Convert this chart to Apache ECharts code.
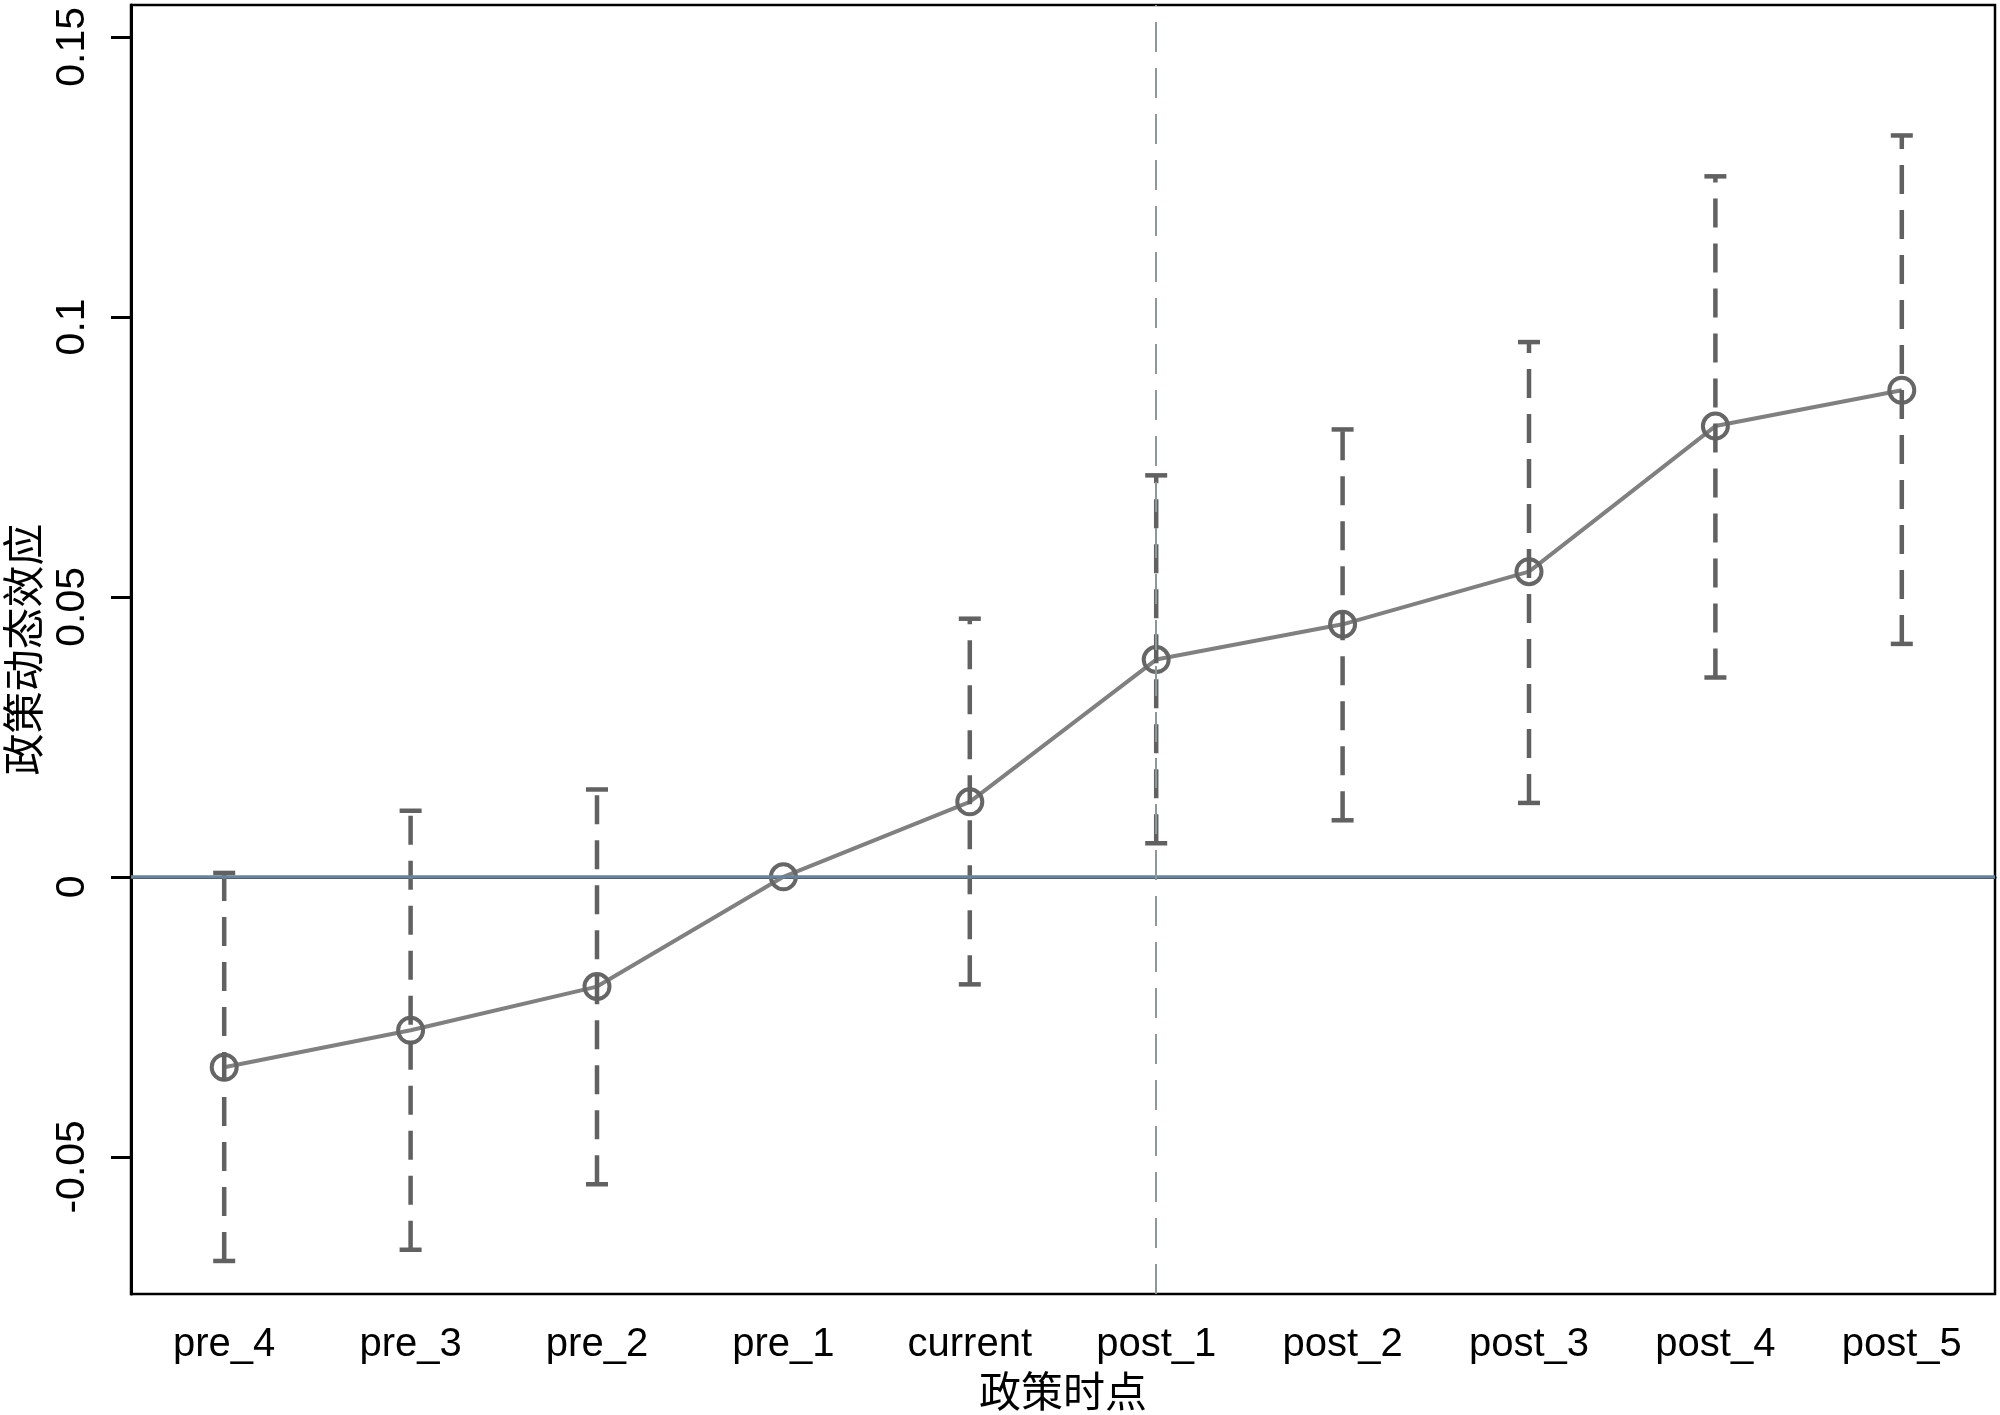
<!DOCTYPE html>
<html>
<head>
<meta charset="utf-8">
<script src="https://cdn.jsdelivr.net/npm/echarts@6/dist/echarts.min.js"></script>
<style>
  html, body { margin: 0; padding: 0; background: #fff; }
  #chart { width: 2000px; height: 1415px; }
</style>
</head>
<body>
<div id="chart"></div>
<script>
var categories = ['pre_4', 'pre_3', 'pre_2', 'pre_1', 'current', 'post_1', 'post_2', 'post_3', 'post_4', 'post_5'];
var coef = [-0.0340, -0.0274, -0.0196, 0, 0.0134, 0.0388, 0.0451, 0.0545, 0.0805, 0.0869];
var ciLow = [-0.0686, -0.0666, -0.0549, null, -0.0192, 0.0060, 0.0101, 0.0132, 0.0356, 0.0416];
var ciHigh = [0.0007, 0.0118, 0.0156, null, 0.0461, 0.0717, 0.0799, 0.0955, 0.1251, 0.1324];
var yTicks = [-0.05, 0, 0.05, 0.1, 0.15];
var policyPoint = 'post_1';

// error bar rows: [category index, low, high]
var errData = [];
for (var i = 0; i < categories.length; i++) {
  if (ciLow[i] !== null) errData.push([i, ciLow[i], ciHigh[i]]);
}

var textFont = "'Liberation Sans', Arial, Helvetica, sans-serif";
var cjkFont = "'Noto Sans CJK SC', sans-serif";

var option = {
  backgroundColor: '#fff',
  animation: false,
  grid: {
    left: 131, right: 5, top: 5, bottom: 121,
    outerBoundsMode: 'none',
    containLabel: false,
    show: true, borderColor: '#000', borderWidth: 2.5, backgroundColor: 'transparent'
  },
  xAxis: {
    type: 'category',
    data: categories,
    boundaryGap: true,
    name: '政策时点',
    nameLocation: 'middle',
    nameGap: 74,
    nameTextStyle: { fontFamily: cjkFont, fontSize: 42, color: '#000' },
    axisLine: { lineStyle: { color: '#000', width: 3 } },
    axisTick: { alignWithLabel: true, length: 20, lineStyle: { color: '#000', width: 3 } },
    axisLabel: { fontFamily: textFont, fontSize: 40, color: '#000', margin: 31 },
    splitLine: { show: false }
  },
  yAxis: {
    type: 'value',
    min: -0.0745,
    max: 0.1557,
    name: '政策动态效应',
    nameLocation: 'middle',
    nameGap: 84,
    nameRotate: 90,
    nameTextStyle: { fontFamily: cjkFont, fontSize: 42, color: '#000' },
    axisLine: { show: true, lineStyle: { color: '#000', width: 3 } },
    axisTick: { show: true, length: 20, customValues: yTicks, lineStyle: { color: '#000', width: 3 } },
    axisLabel: {
      fontFamily: textFont, fontSize: 41, color: '#000', rotate: 90, margin: 38,
      customValues: yTicks, padding: [0, 20, 0, 0], hideOverlap: false
    },
    splitLine: { show: false }
  },
  series: [
    {
      type: 'line',
      data: coef,
      z: 3,
      symbol: 'circle',
      symbolSize: 25,
      lineStyle: { color: '#808080', width: 4 },
      itemStyle: { color: 'transparent', borderColor: '#666', borderWidth: 4 },
      markLine: {
        silent: true,
        symbol: 'none',
        label: { show: false },
        data: [
          { yAxis: 0, lineStyle: { color: '#6b8298', width: 3.5, type: 'solid' } },
          { xAxis: policyPoint, lineStyle: { color: '#8a9898', width: 2, type: [30, 16] } }
        ]
      }
    },
    {
      type: 'custom',
      data: errData,
      z: 4,
      renderItem: function (params, api) {
        var lo = api.coord([api.value(0), api.value(1)]);
        var hi = api.coord([api.value(0), api.value(2)]);
        var half = 11;
        var capStyle = { stroke: '#616161', lineWidth: 4.5, fill: null };
        return {
          type: 'group',
          children: [
            { type: 'line', shape: { x1: lo[0], y1: lo[1], x2: hi[0], y2: hi[1] },
              style: { stroke: '#616161', lineWidth: 4.5, lineDash: [29, 16] } },
            { type: 'line', shape: { x1: lo[0] - half, y1: lo[1], x2: lo[0] + half, y2: lo[1] }, style: capStyle },
            { type: 'line', shape: { x1: hi[0] - half, y1: hi[1], x2: hi[0] + half, y2: hi[1] }, style: capStyle }
          ]
        };
      }
    }
  ]
};

echarts.init(document.getElementById('chart')).setOption(option);
</script>
</body>
</html>
